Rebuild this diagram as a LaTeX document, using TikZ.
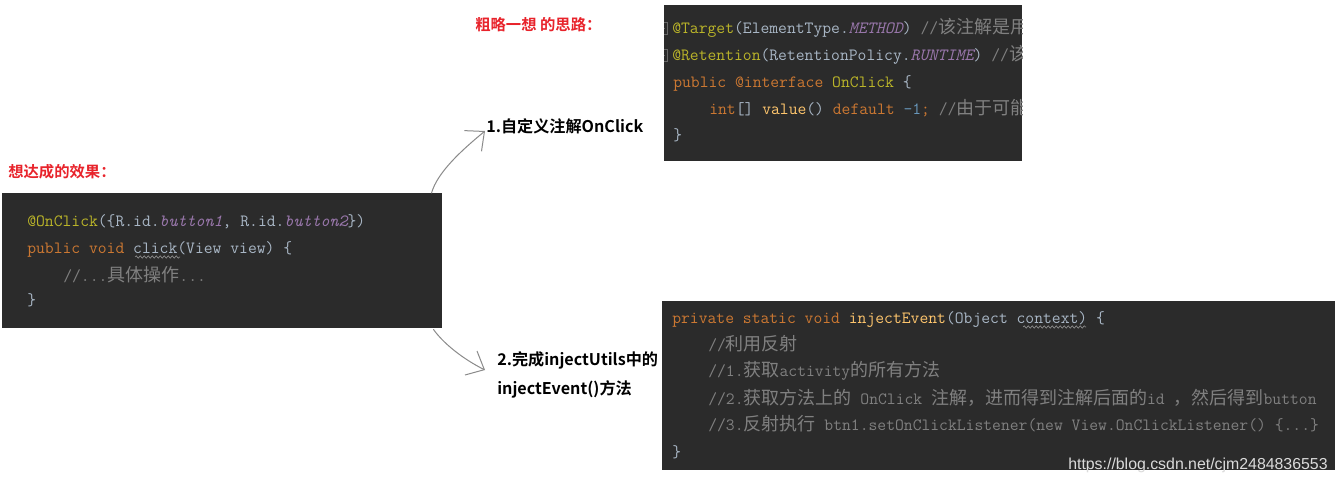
\documentclass[tikz,border=0pt]{standalone}
\usepackage{fontspec}
\setmainfont{Liberation Sans}
\newfontfamily\codezh{Noto Sans CJK SC}[Scale=1.05]
\newfontfamily\zhsans{Noto Sans CJK SC}[BoldFont={Noto Sans CJK SC Bold}]
\usetikzlibrary{arrows.meta,decorations.pathmorphing}

\definecolor{idebg}{HTML}{2B2B2B}
\definecolor{idetext}{HTML}{A9B7C6}
\definecolor{idekey}{HTML}{CC7832}
\definecolor{ideanno}{HTML}{BBB529}
\definecolor{idefield}{HTML}{9876AA}
\definecolor{idecomment}{HTML}{808080}
\definecolor{idemethod}{HTML}{FFC66D}
\definecolor{idenum}{HTML}{6897BB}
\definecolor{notered}{HTML}{E8232B}
\definecolor{pencilgray}{HTML}{8A8A8A}

\def\px{0.75pt}
\newcommand\kw[1]{\textcolor{idekey}{#1}}
\newcommand\anno[1]{\textcolor{ideanno}{#1}}
\newcommand\fld[1]{\textcolor{idefield}{\itshape #1}}
\newcommand\meth[1]{\textcolor{idemethod}{#1}}
\newcommand\numb[1]{\textcolor{idenum}{#1}}
\newcommand\cm[1]{\textcolor{idecomment}{#1}}
\newcommand\zh[1]{{\codezh #1}}

\tikzset{
  codebox/.style={fill=idebg, inner sep=0, anchor=north west},
  code/.style={inner sep=0, anchor=base west, text=idetext,
    font=\ttfamily\fontsize{12.86pt}{15pt}\selectfont},
  title/.style={inner sep=0, anchor=base west, text=notered,
    font=\zhsans\bfseries\fontsize{11.5pt}{13pt}\selectfont},
  steplabel/.style={inner sep=0, anchor=base west, text=black,
    font=\zhsans\bfseries\fontsize{12.1pt}{15pt}\selectfont},
  pencil/.style={draw=pencilgray, line width=0.75pt, line cap=round,
    -{Straight Barb[angle=84:15pt]}},
  squiggle/.style={draw=white!55!black, line width=0.5pt,
    decorate, decoration={snake, amplitude=0.9pt, segment length=3pt}}
}

\begin{document}
\begin{tikzpicture}[x=0.75pt, y=-0.75pt]
\useasboundingbox (0,0) rectangle (1338,484);
\fill[white] (0,0) rectangle (1338,484);

% titles
\node[title] (goaltitle) at (8,177.5) {想达成的效果：};
\node[title] (ideatitle) at (475,30.5) {粗略一想 的思路：};

% wanted effect
\node[codebox, minimum width=440*\px, minimum height=135*\px] (goalbox) at (2,193) {};
\node[code] (g1) at (27,227) {\anno{@OnClick}(\{R.id.\fld{button1}, R.id.\fld{button2}\})};
\node[code] (g2) at (27,254) {\kw{public void} click(View view) \{};
\node[code] (g3) at (63,282) {\cm{//...\zh{具体操作}...}};
\node[code] (g4) at (27,306) {\}};
\draw[squiggle] ([shift={(108,3)}]g2.base west) -- ++(45,0);

% annotation
\node[codebox, minimum width=358*\px, minimum height=156*\px] (annobox) at (664,5) {};
\begin{scope}
  \clip (annobox.north west) rectangle (annobox.south east);
  \draw[idecomment!80!black, line width=0.6pt] (659,22) rectangle (667,34) (661,28) -- (665,28);
  \draw[idecomment!80!black, line width=0.6pt] (659,49) rectangle (667,61) (661,55) -- (665,55);
  \node[code] (a1) at (672,34) {\anno{@Target}(ElementType.\fld{METHOD}) \cm{//\zh{该注解是用}}};
  \node[code] (a2) at (672,61) {\anno{@Retention}(RetentionPolicy.\fld{RUNTIME}) \cm{//\zh{该}}};
  \node[code] (a3) at (673,88) {\kw{public @interface} \anno{OnClick} \{};
  \node[code] (a4) at (709,115) {\kw{int}[] \meth{value}() \kw{default} \numb{-1}\kw{;} \cm{//\zh{由于可能}}};
  \node[code] (a5) at (673,141) {\}};
\end{scope}

% injectEvent
\node[codebox, minimum width=673*\px, minimum height=169*\px] (injectbox) at (662,301) {};
\node[code] (i1) at (672,324) {\kw{private static void} \meth{injectEvent}(Object context) \{};
\node[code] (i2) at (708,351) {\cm{//\zh{利用反射}}};
\node[code] (i3) at (708,377) {\cm{//1.\zh{获取}activity\zh{的所有方法}}};
\node[code] (i4) at (708,404) {\cm{//2.\zh{获取方法上的} OnClick \zh{注解，进而得到注解后面的}id \zh{，然后得到}button}};
\node[code] (i5) at (708,431) {\cm{//3.\zh{反射执行} btn1.setOnClickListener(new View.OnClickListener() \{...\}}};
\node[code] (i6) at (672,457) {\}};
\draw[squiggle] ([shift={(351,3)}]i1.base west) -- ++(63,0);
\node[inner sep=0, anchor=base west, text=white!86!black,
  font=\fontsize{11.9pt}{14pt}\selectfont] (mark) at (1068,469) {https://blog.csdn.net/cjm2484836553};

% steps
\node[steplabel] (step1) at (486,133) {1.自定义注解OnClick};
\node[steplabel] (step2) at (497,366) {2.完成injectUtils中的};
\node[steplabel] (step2b) at (497,394) {injectEvent()方法};

\draw[pencil] ([shift={(-11,0)}]goalbox.north east) .. controls +(6,-21) and +(-23,19) .. ([shift={(-1,-2)}]step1.base west);
\draw[pencil] ([shift={(-9,1)}]goalbox.south east) .. controls +(10,14) and +(-22,-11) .. ([shift={(-12,4)}]step2.base west);
\end{tikzpicture}
\end{document}
